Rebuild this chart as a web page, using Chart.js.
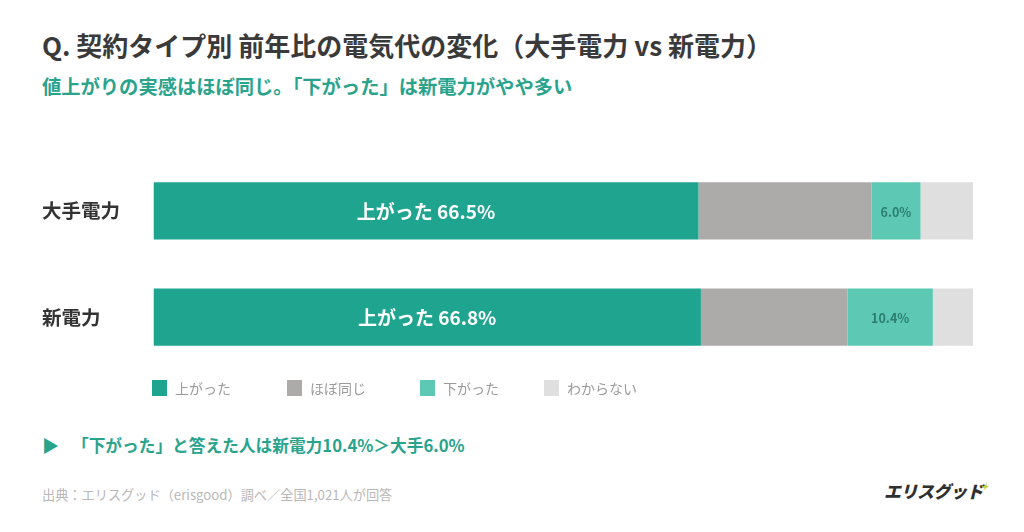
<!DOCTYPE html>
<html lang="ja">
<head>
<meta charset="utf-8">
<script src="https://cdn.jsdelivr.net/npm/chart.js@4.4.0/dist/chart.umd.min.js"></script>
<style>
  body { margin: 0; width: 1024px; height: 532px; background: #fff; position: relative; overflow: hidden;
         font-family: "Noto Sans CJK JP", "Noto Sans", sans-serif; }
  .abs { position: absolute; white-space: nowrap; line-height: 1; }
  #title { left: 42px; top: 32px; font-size: 26px; font-weight: 700; color: #3a3a3a; }
  #subtitle { left: 42px; top: 77px; font-size: 19.3px; font-weight: 700; color: #2aa38d; }
  #chartBox { position: absolute; left: 0; top: 146px; width: 1024px; height: 236px; }
  #legend { left: 152px; top: 380px; display: flex; font-size: 14px; color: #9a9a9a; }
  #legend .item { display: flex; align-items: center; }
  #legend .item:nth-child(1) { width: 135px; }
  #legend .item:nth-child(2) { width: 133px; }
  #legend .item:nth-child(3) { width: 124px; }
  #legend .sw { width: 15px; height: 16px; margin-right: 8px; }
  #note { left: 42px; top: 436px; font-size: 16.7px; font-weight: 700; color: #2aa38d; }
  #note .tri { display: inline-block; width: 30px; font-size: 17px; }
  #source { left: 42px; top: 488px; font-size: 13.2px; color: #b8b8b8; }
  #logo { left: 884px; top: 482px; font-size: 17px; font-weight: 900; color: #2f2f2f; font-style: italic; letter-spacing: -0.5px; }
  #logo .spark { color: #c8d43a; font-size: 9px; vertical-align: top; margin-left: -2px; }
</style>
</head>
<body>
<div class="abs" id="title">Q. 契約タイプ別 前年比の電気代の変化（大手電力 vs 新電力）</div>
<div class="abs" id="subtitle">値上がりの実感はほぼ同じ。「下がった」は新電力がやや多い</div>
<div id="chartBox"><canvas id="barChart"></canvas></div>
<div class="abs" id="legend"></div>
<div class="abs" id="note"><span class="tri">▶</span>「下がった」と答えた人は新電力10.4%＞大手6.0%</div>
<div class="abs" id="source">出典：エリスグッド（erisgood）調べ／全国1,021人が回答</div>
<div class="abs" id="logo">エリスグッド<span class="spark">✦</span></div>
<script>
// data
const categories = ['大手電力', '新電力'];
const seriesNames = ['上がった', 'ほぼ同じ', '下がった', 'わからない'];
const agatta = [66.5, 66.8];
const hoboOnaji = [21.1, 17.9];
const sagatta = [6.0, 10.4];
const wakaranai = [6.4, 4.9];
const seriesColors = ['#1fa58f', '#adabaa', '#5dc8b4', '#dfdfdf'];

const seriesValues = [agatta, hoboOnaji, sagatta, wakaranai];

// labels drawn inside bars: big white for 上がった, small dark teal for 下がった
const labelStyles = [
    { font: '700 19px "Noto Sans CJK JP"', color: '#ffffff', prefix: '上がった ' },
    null,
    { font: '700 12.5px "Noto Sans CJK JP"', color: '#2b7d6e', prefix: '' },
    null
];

const barLabels = {
    id: 'barLabels',
    afterDatasetsDraw(chart) {
        const ctx = chart.ctx;
        chart.data.datasets.forEach((ds, i) => {
            const st = labelStyles[i];
            if (!st) return;
            chart.getDatasetMeta(i).data.forEach((bar, j) => {
                const cx = (bar.x + bar.base) / 2;
                ctx.save();
                ctx.font = st.font;
                ctx.fillStyle = st.color;
                ctx.textAlign = 'center';
                ctx.textBaseline = 'middle';
                ctx.fillText(st.prefix + ds.data[j].toFixed(1) + '%', cx, bar.y + 1);
                ctx.restore();
            });
        });
    }
};

// legend
const legendEl = document.getElementById('legend');
seriesNames.forEach((name, i) => {
    const item = document.createElement('div');
    item.className = 'item';
    item.innerHTML = `<span class="sw" style="background:${seriesColors[i]}"></span>${name}`;
    legendEl.appendChild(item);
});

const ctxBar = document.getElementById('barChart').getContext('2d');
new Chart(ctxBar, {
    type: 'bar',
    data: {
        labels: categories,
        datasets: seriesNames.map((name, i) => ({
            label: name,
            data: seriesValues[i],
            backgroundColor: seriesColors[i],
            borderWidth: 0,
            barPercentage: 0.54,
            categoryPercentage: 1
        }))
    },
    options: {
        indexAxis: 'y',
        responsive: true,
        maintainAspectRatio: false,
        animation: false,
        layout: { padding: { left: 42, right: 51, top: 0, bottom: 0 } },
        plugins: { legend: { display: false }, tooltip: { enabled: false } },
        scales: {
            x: { stacked: true, min: 0, max: 100, display: false },
            y: {
                stacked: true,
                grid: { display: false },
                border: { display: false },
                ticks: {
                    color: '#333333',
                    crossAlign: 'far',
                    padding: 0,
                    font: { family: '"Noto Sans CJK JP"', size: 19.5, weight: '700' }
                },
                afterFit(scale) { scale.width = 111.5; }
            }
        }
    },
    plugins: [barLabels]
});
</script>
</body>
</html>
